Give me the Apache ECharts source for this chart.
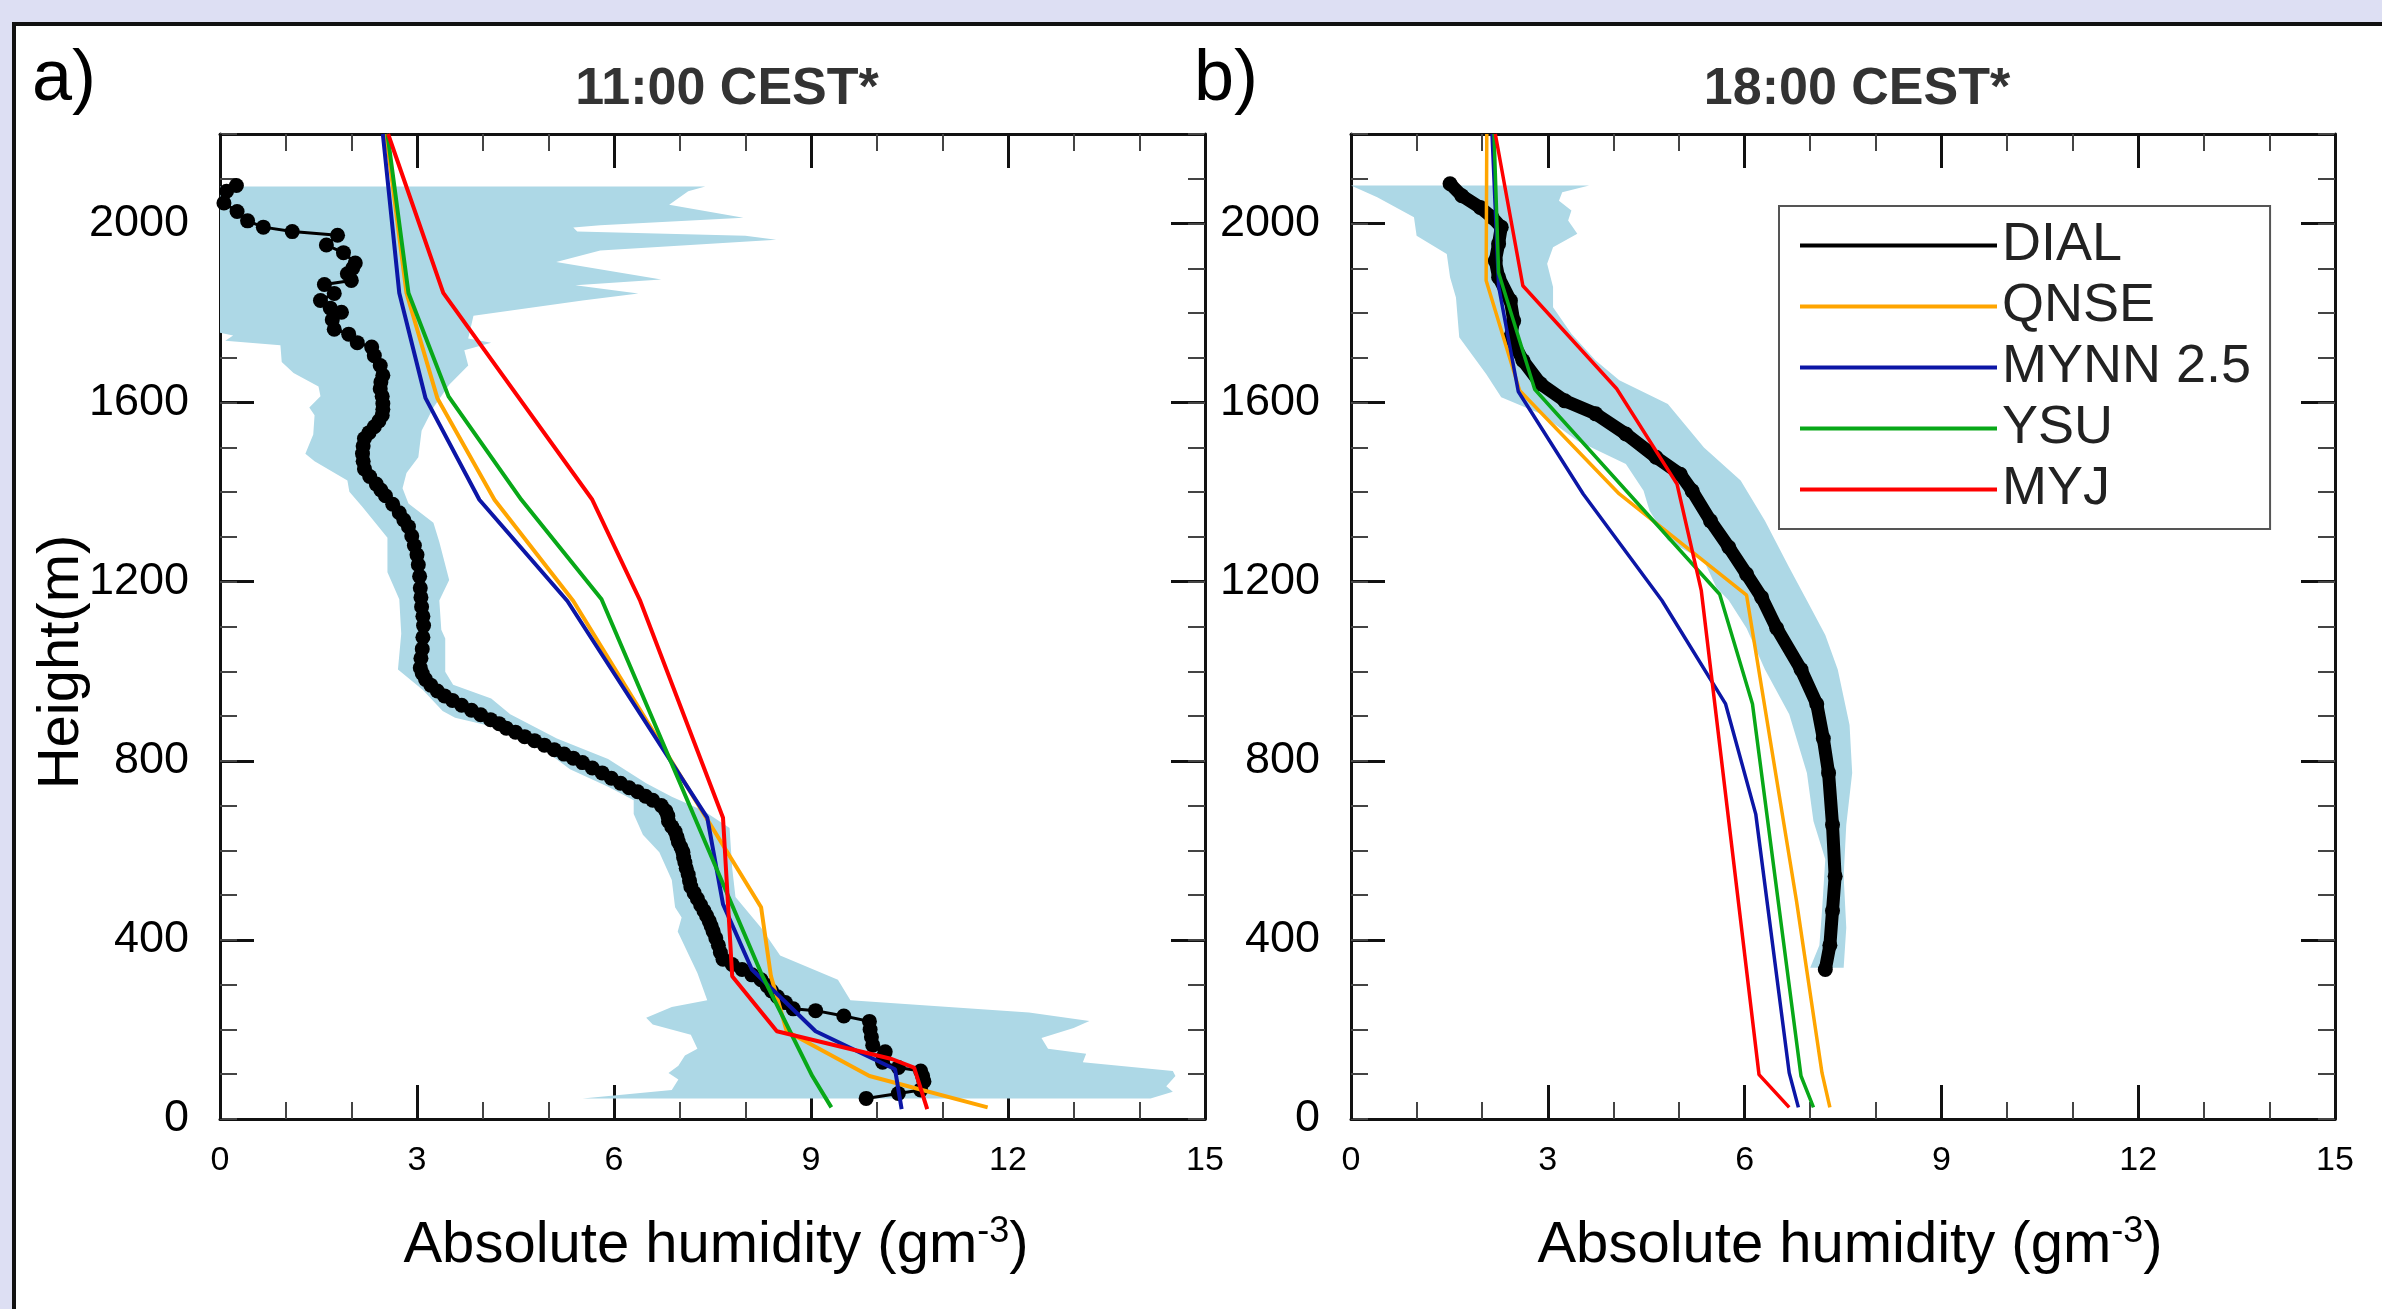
<!DOCTYPE html>
<html>
<head>
<meta charset="utf-8">
<script src="https://cdn.jsdelivr.net/npm/echarts@6/dist/echarts.min.js"></script>
<style>
  html, body { margin: 0; padding: 0; }
  body { width: 2382px; height: 1309px; overflow: hidden; background: #dddff3; position: relative; }
  #frame {
    position: absolute; left: 12px; top: 22px; width: 2400px; height: 1320px;
    background: #fff; border-left: 4px solid #111; border-top: 4px solid #111;
  }
  #chart { position: absolute; left: 0; top: 0; width: 2382px; height: 1309px; }
</style>
</head>
<body>
<div id="frame"></div>
<div id="chart"></div>
<script>
var FONT = "'Liberation Sans', Arial, Helvetica, sans-serif";

// axis ticks
var xTicks = [0, 3, 6, 9, 12, 15];
var yTicks = [0, 400, 800, 1200, 1600, 2000];
var yMax = 2200;

var legendNames = ["DIAL", "QNSE", "MYNN 2.5", "YSU", "MYJ"];
var modelColors = { "QNSE": "#ffa500", "MYNN 2.5": "#0c16a6", "YSU": "#08a818", "MYJ": "#ff0000" };

// ---- a) 11:00 CEST  [humidity, height] ----
var dialA = [
  [0.25, 2085], [0.10, 2072], [0.06, 2046], [0.26, 2027], [0.42, 2006], [0.66, 1992], [1.10, 1982],
  [1.79, 1974], [1.62, 1952], [1.88, 1935], [2.06, 1912], [2.02, 1900], [1.94, 1888], [2.00, 1873],
  [1.59, 1864], [1.74, 1844], [1.53, 1828], [1.68, 1811], [1.85, 1802], [1.71, 1785], [1.74, 1764],
  [1.96, 1753], [2.09, 1734], [2.31, 1724], [2.35, 1705], [2.44, 1683], [2.48, 1661], [2.45, 1646],
  [2.44, 1631], [2.47, 1614], [2.48, 1598], [2.48, 1585], [2.47, 1572], [2.42, 1559], [2.35, 1546],
  [2.27, 1533], [2.20, 1520], [2.18, 1503], [2.17, 1486], [2.18, 1469], [2.20, 1452], [2.28, 1435],
  [2.38, 1418], [2.45, 1405], [2.52, 1392], [2.63, 1373], [2.73, 1354], [2.80, 1338], [2.87, 1323],
  [2.92, 1302], [2.96, 1281], [3.00, 1260], [3.02, 1238], [3.04, 1212], [3.05, 1186], [3.06, 1165],
  [3.07, 1144], [3.09, 1123], [3.10, 1102], [3.09, 1076], [3.08, 1050], [3.06, 1029], [3.05, 1008],
  [3.08, 995], [3.13, 982], [3.21, 969], [3.31, 956], [3.42, 945], [3.54, 935], [3.68, 924],
  [3.83, 913], [3.97, 903], [4.12, 892], [4.25, 883], [4.36, 873], [4.50, 864], [4.64, 854],
  [4.79, 845], [4.94, 835], [5.09, 825], [5.24, 815], [5.38, 806], [5.52, 796], [5.67, 784],
  [5.82, 773], [5.96, 761], [6.10, 750], [6.23, 740], [6.36, 731], [6.48, 721], [6.59, 712],
  [6.72, 700], [6.79, 688], [6.82, 677], [6.83, 665], [6.88, 653], [6.93, 642], [6.96, 630],
  [6.98, 619], [7.02, 607], [7.05, 596], [7.06, 584], [7.08, 573], [7.10, 560], [7.13, 546],
  [7.15, 532], [7.17, 519], [7.22, 505], [7.27, 492], [7.32, 478], [7.37, 465], [7.41, 454],
  [7.45, 442], [7.48, 431], [7.51, 419], [7.55, 404], [7.59, 388], [7.62, 372], [7.66, 357],
  [7.80, 345], [7.95, 334], [8.10, 322], [8.24, 311], [8.33, 298], [8.40, 286], [8.49, 273],
  [8.61, 260], [8.73, 246], [9.07, 242], [9.50, 230], [9.89, 218], [9.90, 200], [9.92, 183],
  [9.94, 165], [10.13, 150], [10.10, 139], [10.09, 127], [10.33, 115], [10.67, 107], [10.70, 96],
  [10.72, 84], [10.67, 65], [10.33, 57], [9.84, 46]
];
var bandRightA = [
  [7.39, 2083], [7.13, 2072], [6.84, 2042], [7.97, 2013], [5.79, 1996], [5.38, 1991], [5.44, 1982],
  [8.00, 1973], [8.47, 1964], [5.79, 1940], [5.12, 1914], [6.72, 1875], [5.41, 1862], [6.37, 1844],
  [5.52, 1828], [3.86, 1794], [3.78, 1743], [4.13, 1734], [3.72, 1717], [3.78, 1683], [3.49, 1640],
  [3.25, 1589], [3.07, 1537], [3.02, 1478], [2.84, 1443], [2.78, 1409], [2.87, 1375], [3.25, 1332],
  [3.34, 1289], [3.49, 1204], [3.34, 1158], [3.37, 1093], [3.43, 1073], [3.43, 999], [3.55, 970],
  [4.13, 939], [4.42, 904], [5.13, 850], [5.91, 804], [6.49, 750], [6.88, 720], [7.37, 688],
  [7.76, 650], [7.80, 560], [7.85, 496], [8.24, 427], [8.53, 365], [9.41, 311], [9.60, 265],
  [12.32, 238], [13.24, 219], [13.00, 203], [12.51, 181], [12.61, 157], [13.19, 146], [13.14, 127],
  [14.51, 107], [14.55, 96], [14.41, 73], [14.51, 61], [14.17, 46]
];
var bandLeftA = [
  [0, 2083], [0, 1756], [0.20, 1750], [0.08, 1738], [0.92, 1728], [0.94, 1691], [1.12, 1666],
  [1.50, 1636], [1.53, 1614], [1.36, 1589], [1.44, 1572], [1.42, 1529], [1.30, 1486], [1.44, 1469],
  [1.94, 1426], [1.97, 1401], [2.17, 1367], [2.55, 1298], [2.55, 1221], [2.73, 1161], [2.76, 1084],
  [2.71, 1004], [2.90, 981], [3.09, 958], [3.39, 911], [3.58, 896], [4.26, 873], [4.84, 835],
  [5.33, 781], [5.91, 742], [6.30, 712], [6.30, 681], [6.44, 635], [6.69, 596], [6.88, 534],
  [6.93, 473], [7.03, 450], [6.97, 419], [7.17, 357], [7.27, 326], [7.42, 265], [6.88, 250],
  [6.49, 226], [6.59, 211], [7.17, 188], [7.27, 157], [7.08, 142], [6.98, 119], [6.83, 103],
  [6.98, 88], [6.88, 65], [5.52, 46]
];
var qnseA = [[2.53, 2200], [2.84, 1845], [3.31, 1610], [4.18, 1383], [5.38, 1157], [8.24, 473], [8.39, 319], [8.63, 196], [9.89, 96], [11.69, 26]];
var mynnA = [[2.48, 2200], [2.73, 1845], [3.13, 1610], [3.95, 1383], [5.29, 1157], [7.42, 673], [7.66, 480], [8.10, 334], [9.07, 196], [10.28, 111], [10.38, 22]];
var ysuA  = [[2.55, 2200], [2.87, 1845], [3.48, 1614], [4.59, 1383], [5.81, 1161], [8.24, 326], [9.02, 96], [9.31, 26]];
var myjA  = [[2.56, 2200], [3.40, 1845], [5.67, 1383], [6.40, 1157], [7.66, 673], [7.80, 319], [8.48, 196], [10.23, 134], [10.57, 115], [10.77, 22]];

// ---- b) 18:00 CEST ----
var dialB = [
  [1.51, 2089], [1.69, 2062], [1.97, 2036], [2.15, 2014], [2.29, 1992], [2.25, 1955], [2.20, 1917],
  [2.25, 1880], [2.43, 1828], [2.48, 1783], [2.43, 1746], [2.62, 1694], [2.89, 1642], [3.26, 1604],
  [3.73, 1575], [4.19, 1530], [4.65, 1478], [5.02, 1440], [5.20, 1403], [5.48, 1336], [5.76, 1277],
  [6.03, 1217], [6.26, 1165], [6.49, 1096], [6.86, 1004], [7.10, 927], [7.20, 850], [7.28, 773],
  [7.34, 657], [7.38, 542], [7.34, 465], [7.30, 388], [7.23, 334]
];
var bandRightB = [
  [3.63, 2085], [3.22, 2070], [3.17, 2051], [3.36, 2029], [3.31, 2007], [3.45, 1977], [3.08, 1947],
  [2.99, 1910], [3.08, 1858], [3.08, 1813], [3.36, 1754], [3.73, 1694], [4.09, 1650], [4.83, 1597],
  [5.38, 1500], [5.94, 1426], [6.31, 1336], [6.68, 1232], [6.95, 1158], [7.23, 1081], [7.42, 1004],
  [7.60, 880], [7.64, 773], [7.55, 657], [7.51, 542], [7.55, 427], [7.51, 338]
];
var bandLeftB = [
  [0, 2085], [0.40, 2059], [0.96, 2014], [1.00, 1973], [1.46, 1932], [1.51, 1880], [1.60, 1835],
  [1.65, 1746], [2.06, 1664], [2.29, 1612], [2.89, 1575], [3.45, 1515], [4.19, 1463], [4.46, 1403],
  [4.55, 1359], [4.83, 1292], [5.38, 1247], [5.57, 1187], [5.76, 1158], [6.03, 1096], [6.31, 1004],
  [6.68, 904], [6.95, 773], [7.05, 665], [7.23, 580], [7.18, 465], [7.14, 388], [7.00, 338]
];
var qnseB = [[2.07, 2200], [2.06, 1873], [2.57, 1627], [4.09, 1396], [6.03, 1170], [6.79, 488], [7.18, 103], [7.30, 26]];
var mynnB = [[2.15, 2200], [2.25, 1860], [2.55, 1625], [3.54, 1396], [4.74, 1158], [5.71, 927], [6.17, 681], [6.68, 103], [6.82, 26]];
var ysuB  = [[2.18, 2200], [2.25, 1890], [2.80, 1630], [5.62, 1172], [6.12, 927], [6.86, 96], [7.05, 26]];
var myjB  = [[2.20, 2200], [2.62, 1861], [4.05, 1631], [4.97, 1418], [5.34, 1180], [6.22, 99], [6.68, 26]];

var chart = echarts.init(document.getElementById("chart"), null, { renderer: "canvas" });

function xAxisFor(grid, pos) {
  return {
    type: "value", gridIndex: grid, position: pos,
    min: xTicks[0], max: xTicks[xTicks.length - 1], interval: xTicks[1] - xTicks[0],
    axisLine: { onZero: false, lineStyle: { color: "#111", width: 3 } },
    axisTick: { inside: true, length: 34, lineStyle: { color: "#111", width: 3 } },
    minorTick: { show: true, splitNumber: 3, length: 17, lineStyle: { color: "#444", width: 2 } },
    axisLabel: {
      show: pos === "bottom", margin: 25, fontSize: 34, color: "#000", fontFamily: FONT
    },
    splitLine: { show: false }
  };
}

function yAxisFor(grid, pos, minor) {
  return {
    type: "value", gridIndex: grid, position: pos,
    min: 0, max: yMax, interval: minor ? 100 : yTicks[1] - yTicks[0],
    axisLine: { show: !minor, onZero: false, lineStyle: { color: "#111", width: 3 } },
    axisTick: {
      inside: true, length: minor ? 17 : 34,
      lineStyle: { color: minor ? "#444" : "#111", width: minor ? 2 : 3 }
    },
    axisLabel: {
      show: pos === "left" && !minor, margin: 31, fontSize: 45, color: "#000", fontFamily: FONT,
      formatter: function (v) { return yTicks.indexOf(v) >= 0 ? String(v) : ""; }
    },
    splitLine: { show: false }
  };
}

function bandSeries(grid, right, left) {
  return {
    type: "custom", xAxisIndex: grid * 2, yAxisIndex: grid * 4,
    data: [[0, 0]], silent: true, z: 1,
    renderItem: function (params, api) {
      var pts = right.map(function (p) { return api.coord(p); });
      left.slice().reverse().forEach(function (p) { pts.push(api.coord(p)); });
      return { type: "polygon", shape: { points: pts }, style: { fill: "#add8e6" } };
    }
  };
}

function modelSeries(grid, name, data, width) {
  return {
    name: name, type: "line", xAxisIndex: grid * 2, yAxisIndex: grid * 4,
    data: data, symbol: "none", z: 4, silent: true,
    color: modelColors[name],
    lineStyle: { color: modelColors[name], width: width }
  };
}

function dialSeries(grid, data, width) {
  return {
    name: "DIAL", type: "line", xAxisIndex: grid * 2, yAxisIndex: grid * 4,
    data: data, symbol: "circle", symbolSize: 15, showSymbol: true, z: 3, silent: true,
    color: "#000",
    itemStyle: { color: "#000" },
    lineStyle: { color: "#000", width: width, cap: "round", join: "round" }
  };
}

var xTitle = {
  text: "{n|Absolute humidity (gm}{s|-3}{n|)}", textAlign: "center", textVerticalAlign: "middle", fill: "#000",
  rich: { n: { fontSize: 58, lineHeight: 64, fontFamily: FONT }, s: { fontSize: 36, verticalAlign: "top", fontFamily: FONT } }
};

var option = {
  animation: false,
  backgroundColor: "transparent",
  grid: [
    { left: 220, top: 134, width: 985, height: 985 },
    { left: 1351, top: 134, width: 984, height: 985 }
  ],
  xAxis: [xAxisFor(0, "bottom"), xAxisFor(0, "top"), xAxisFor(1, "bottom"), xAxisFor(1, "top")],
  yAxis: [
    yAxisFor(0, "left", false), yAxisFor(0, "left", true), yAxisFor(0, "right", false), yAxisFor(0, "right", true),
    yAxisFor(1, "left", false), yAxisFor(1, "left", true), yAxisFor(1, "right", false), yAxisFor(1, "right", true)
  ],
  legend: {
    data: legendNames, orient: "vertical", left: 1779, top: 206,
    icon: "rect", itemWidth: 197, itemHeight: 4, itemGap: 6,
    padding: [12, 19, 12, 21],
    borderColor: "#555", borderWidth: 2, backgroundColor: "#fff",
    selectedMode: false,
    textStyle: { fontSize: 54, lineHeight: 55, color: "#222", fontFamily: FONT }
  },
  graphic: [
    { type: "text", x: 32, y: 80, style: { text: "a)", font: "72px " + FONT, fill: "#000", textAlign: "left", textVerticalAlign: "middle" } },
    { type: "text", x: 1194, y: 80, style: { text: "b)", font: "72px " + FONT, fill: "#000", textAlign: "left", textVerticalAlign: "middle" } },
    { type: "text", x: 727, y: 90, style: { text: "11:00 CEST*", font: "bold 52px " + FONT, fill: "#333", textAlign: "center", textVerticalAlign: "middle" } },
    { type: "text", x: 1857, y: 90, style: { text: "18:00 CEST*", font: "bold 52px " + FONT, fill: "#333", textAlign: "center", textVerticalAlign: "middle" } },
    { type: "text", x: 62, y: 662, rotation: Math.PI / 2, style: { text: "Height(m)", font: "58px " + FONT, fill: "#000", textAlign: "center", textVerticalAlign: "middle" } },
    { type: "text", x: 716, y: 1246, style: xTitle },
    { type: "text", x: 1850, y: 1246, style: xTitle }
  ],
  series: [
    bandSeries(0, bandRightA, bandLeftA),
    dialSeries(0, dialA, 3),
    modelSeries(0, "QNSE", qnseA, 4),
    modelSeries(0, "MYNN 2.5", mynnA, 4),
    modelSeries(0, "YSU", ysuA, 4),
    modelSeries(0, "MYJ", myjA, 4),
    bandSeries(1, bandRightB, bandLeftB),
    dialSeries(1, dialB, 13),
    modelSeries(1, "QNSE", qnseB, 3.5),
    modelSeries(1, "MYNN 2.5", mynnB, 3.5),
    modelSeries(1, "YSU", ysuB, 3.5),
    modelSeries(1, "MYJ", myjB, 3.5)
  ]
};

chart.setOption(option);
</script>
</body>
</html>
